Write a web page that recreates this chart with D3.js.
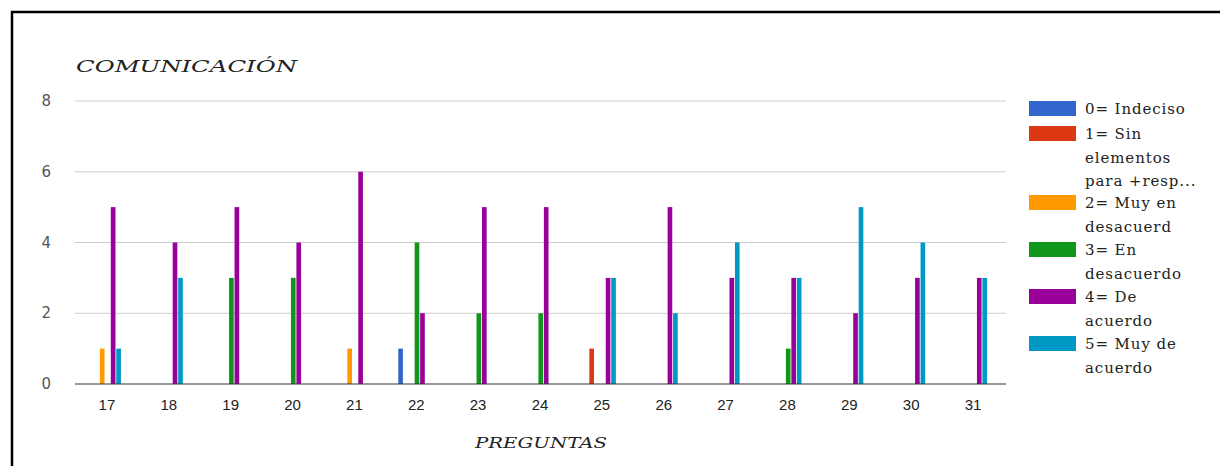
<!DOCTYPE html>
<html>
<head>
<meta charset="utf-8">
<script src="https://cdn.jsdelivr.net/npm/d3@7"></script>
<style>
  body { margin: 0; background: #fff; }
  svg { display: block; }
</style>
</head>
<body>
<svg id="chart" width="1220" height="466"></svg>
<script>
// questions on the x axis
var preguntas = ["17", "18", "19", "20", "21", "22", "23", "24", "25", "26", "27", "28", "29", "30", "31"];

// legend labels, one per answer
var respuestas = [
  ["0= Indeciso"],
  ["1= Sin", "elementos", "para +resp..."],
  ["2= Muy en", "desacuerd"],
  ["3= En", "desacuerdo"],
  ["4= De", "acuerdo"],
  ["5= Muy de", "acuerdo"]
];
var colores = ["#3366cc", "#dc3912", "#ff9900", "#109618", "#990099", "#0099c6"];

// counts per answer, one value for each question
var indeciso       = [0, 0, 0, 0, 0, 1, 0, 0, 0, 0, 0, 0, 0, 0, 0];
var sinElementos   = [0, 0, 0, 0, 0, 0, 0, 0, 1, 0, 0, 0, 0, 0, 0];
var muyDesacuerdo  = [1, 0, 0, 0, 1, 0, 0, 0, 0, 0, 0, 0, 0, 0, 0];
var enDesacuerdo   = [0, 0, 3, 3, 0, 4, 2, 2, 0, 0, 0, 1, 0, 0, 0];
var deAcuerdo      = [5, 4, 5, 4, 6, 2, 5, 5, 3, 5, 3, 3, 2, 3, 3];
var muyDeAcuerdo   = [1, 3, 0, 0, 0, 0, 0, 0, 3, 2, 4, 3, 5, 4, 3];

var yTicks = [0, 2, 4, 6, 8];

var series = [indeciso, sinElementos, muyDesacuerdo, enDesacuerdo, deAcuerdo, muyDeAcuerdo];

var svg = d3.select("#chart");

// frame (left and top edges only)
svg.append("path")
    .attr("d", "M12,466 L12,12 L1220,12")
    .attr("fill", "none")
    .attr("stroke", "#000")
    .attr("stroke-width", 2.5);

var plotLeft = 75, plotRight = 1006, plotTop = 101, plotBottom = 384;

var y = d3.scaleLinear().domain([0, 8]).range([plotBottom, plotTop]);
var x0 = d3.scaleBand().domain(preguntas).range([74, 1002]);
var x1 = d3.scaleBand().domain(d3.range(series.length)).range([0, 32]).paddingInner(0.15);

// gridlines
svg.append("g").selectAll("line")
  .data(yTicks.filter(function(d) { return d > 0; }))
  .enter().append("line")
    .attr("x1", plotLeft).attr("x2", plotRight)
    .attr("y1", function(d) { return y(d); })
    .attr("y2", function(d) { return y(d); })
    .attr("stroke", "#cccccc")
    .attr("stroke-width", 1);

// y labels
svg.append("g").selectAll("text")
  .data(yTicks)
  .enter().append("text")
    .attr("x", 51)
    .attr("y", function(d) { return y(d) + 5; })
    .attr("text-anchor", "end")
    .attr("font-family", "DejaVu Sans")
    .attr("font-size", 15)
    .attr("fill", "#555")
    .text(function(d) { return d; });

// bars
var groups = svg.append("g").selectAll("g")
  .data(preguntas)
  .enter().append("g")
    .attr("transform", function(d) {
      return "translate(" + (x0(d) + x0.bandwidth() / 2 - 16) + ",0)";
    });

groups.selectAll("rect")
  .data(function(d, i) {
    return series.map(function(s, k) { return { k: k, v: s[i] }; });
  })
  .enter().append("rect")
    .filter(function(d) { return d.v > 0; })
    .attr("x", function(d) { return x1(d.k); })
    .attr("width", x1.bandwidth())
    .attr("y", function(d) { return y(d.v); })
    .attr("height", function(d) { return y(0) - y(d.v); })
    .attr("fill", function(d) { return colores[d.k]; });

// baseline
svg.append("line")
    .attr("x1", plotLeft).attr("x2", plotRight)
    .attr("y1", y(0)).attr("y2", y(0))
    .attr("stroke", "#333")
    .attr("stroke-width", 1);

// x labels
svg.append("g").selectAll("text")
  .data(preguntas)
  .enter().append("text")
    .attr("x", function(d) { return x0(d) + x0.bandwidth() / 2 + 2; })
    .attr("y", 410)
    .attr("text-anchor", "middle")
    .attr("font-family", "Liberation Sans")
    .attr("font-size", 15)
    .attr("fill", "#222")
    .text(function(d) { return d; });

// titles
svg.append("text")
    .attr("x", 76).attr("y", 72)
    .attr("font-family", "DejaVu Serif")
    .attr("font-style", "italic")
    .attr("font-size", 17)
    .attr("fill", "#222")
    .attr("textLength", 221)
    .attr("lengthAdjust", "spacingAndGlyphs")
    .text("COMUNICACIÓN");

svg.append("text")
    .attr("x", 475).attr("y", 448)
    .attr("font-family", "DejaVu Serif")
    .attr("font-style", "italic")
    .attr("font-size", 15)
    .attr("fill", "#222")
    .attr("textLength", 132)
    .attr("lengthAdjust", "spacingAndGlyphs")
    .text("PREGUNTAS");

// legend
var legendTops = [101, 126, 195, 242, 289, 336];
var legend = svg.append("g").selectAll("g")
  .data(respuestas)
  .enter().append("g")
    .attr("transform", function(d, i) { return "translate(1029," + legendTops[i] + ")"; });

legend.append("rect")
    .attr("width", 47).attr("height", 15)
    .attr("fill", function(d, i) { return colores[i]; });

legend.selectAll("text")
  .data(function(d) { return d; })
  .enter().append("text")
    .attr("x", 56)
    .attr("y", function(d, j) { return 13 + j * 23.5; })
    .attr("font-family", "DejaVu Serif")
    .attr("font-size", 15)
    .attr("letter-spacing", 0.9)
    .attr("fill", "#222")
    .text(function(d) { return d; });
</script>
</body>
</html>
